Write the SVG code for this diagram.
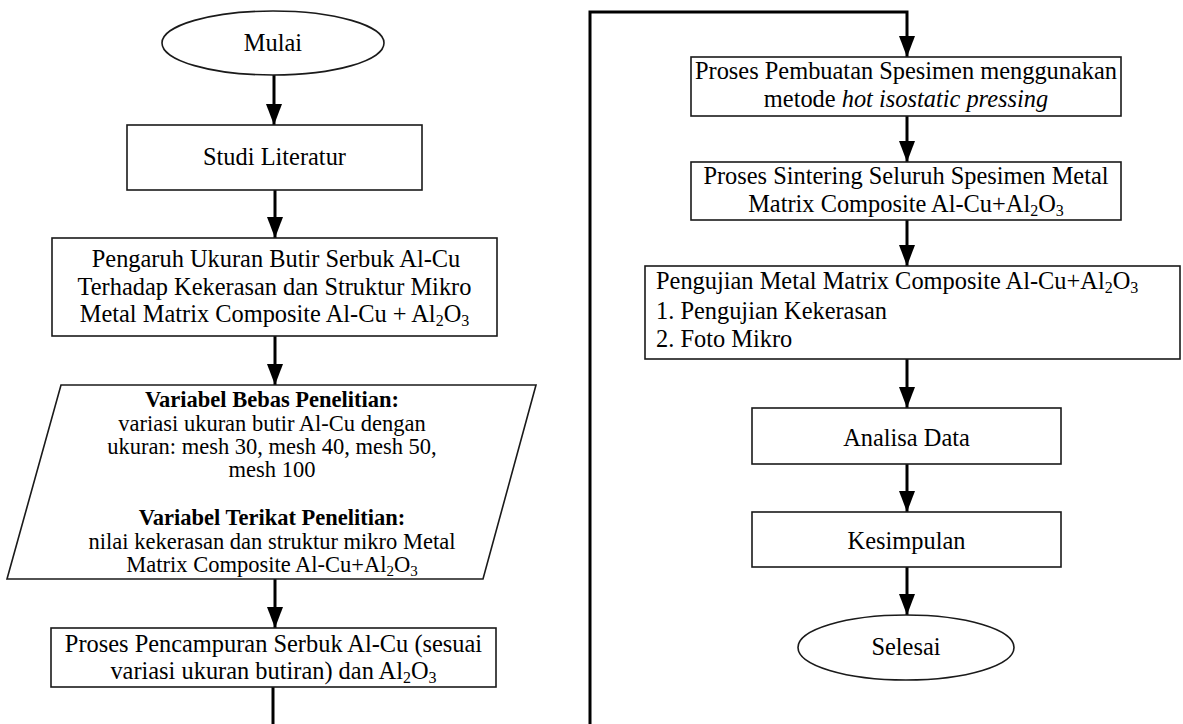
<svg xmlns="http://www.w3.org/2000/svg" width="1183" height="724" viewBox="0 0 1183 724">
<defs>
<marker id="arr" markerUnits="userSpaceOnUse" markerWidth="22" markerHeight="18" refX="21" refY="8" orient="auto">
<path d="M0,0 L21,8 L0,16 z" fill="#000"/>
</marker>
<style>
.shape{fill:#fff;stroke:#1a1a1a;stroke-width:1.6}
.t{font-family:"Liberation Serif","Times New Roman",serif;font-size:24.4px;fill:#000}
.c{text-anchor:middle}
.p{font-size:22.5px}
.b{font-weight:bold}
.conn{fill:none;stroke:#000;stroke-width:3}
</style>
</defs>
<rect width="1183" height="724" fill="#fff"/>
<g id="connectors">
<path class="conn" d="M274,75 V125" marker-end="url(#arr)"/>
<path class="conn" d="M275,190 V238" marker-end="url(#arr)"/>
<path class="conn" d="M275,336 V385" marker-end="url(#arr)"/>
<path class="conn" d="M275,579 V628" marker-end="url(#arr)"/>
<path class="conn" d="M273,687 V730"/>
<path class="conn" d="M590,730 V12 H907 V57" marker-end="url(#arr)"/>
<path class="conn" d="M907,116 V162" marker-end="url(#arr)"/>
<path class="conn" d="M907,220 V266" marker-end="url(#arr)"/>
<path class="conn" d="M907,359 V408" marker-end="url(#arr)"/>
<path class="conn" d="M907,464 V512" marker-end="url(#arr)"/>
<path class="conn" d="M907,567 V615" marker-end="url(#arr)"/>
</g>
<g id="mulai">
<ellipse class="shape" cx="273" cy="43" rx="111" ry="32"/>
<text class="t c" x="273" y="51">Mulai</text>
</g>
<g id="studi">
<rect class="shape" x="127" y="125" width="295" height="65"/>
<text class="t c" x="274.5" y="165">Studi Literatur</text>
</g>
<g id="pengaruh">
<rect class="shape" x="52" y="238" width="445" height="98"/>
<text class="t c" x="276" y="267">Pengaruh Ukuran Butir Serbuk Al-Cu</text>
<text class="t c" x="274.5" y="294.5">Terhadap Kekerasan dan Struktur Mikro</text>
<text class="t c" x="274.5" y="322">Metal Matrix Composite Al-Cu + Al<tspan font-size="16" dy="4">2</tspan><tspan dy="-4">O</tspan><tspan font-size="16" dy="4">3</tspan></text>
</g>
<g id="variabel">
<polygon class="shape" points="61,385 536,385 483,579 7,579"/>
<text class="t p c b" x="272" y="406.7">Variabel Bebas Penelitian:</text>
<text class="t p c" x="272" y="430.5">variasi ukuran butir Al-Cu dengan</text>
<text class="t p c" x="272" y="454">ukuran: mesh 30, mesh 40, mesh 50,</text>
<text class="t p c" x="272" y="477">mesh 100</text>
<text class="t p c b" x="272" y="525">Variabel Terikat Penelitian:</text>
<text class="t p c" x="272" y="548.5">nilai kekerasan dan struktur mikro Metal</text>
<text class="t p c" x="272" y="572">Matrix Composite Al-Cu+Al<tspan font-size="15" dy="4">2</tspan><tspan dy="-4">O</tspan><tspan font-size="15" dy="4">3</tspan></text>
</g>
<g id="pencampuran">
<rect class="shape" x="51" y="628" width="445" height="59"/>
<text class="t c" x="273.5" y="652">Proses Pencampuran Serbuk Al-Cu (sesuai</text>
<text class="t c" x="273.5" y="679">variasi ukuran butiran) dan Al<tspan font-size="16" dy="4">2</tspan><tspan dy="-4">O</tspan><tspan font-size="16" dy="4">3</tspan></text>
</g>
<g id="pembuatan">
<rect class="shape" x="691" y="57" width="430" height="59"/>
<text class="t c" x="906" y="79">Proses Pembuatan Spesimen menggunakan</text>
<text class="t c" x="906" y="107">metode <tspan font-style="italic">hot isostatic pressing</tspan></text>
</g>
<g id="sintering">
<rect class="shape" x="691" y="162" width="430" height="58"/>
<text class="t c" x="906" y="183.5">Proses Sintering Seluruh Spesimen Metal</text>
<text class="t c" x="906" y="212">Matrix Composite Al-Cu+Al<tspan font-size="16" dy="4">2</tspan><tspan dy="-4">O</tspan><tspan font-size="16" dy="4">3</tspan></text>
</g>
<g id="pengujian">
<rect class="shape" x="645" y="266" width="535" height="93"/>
<text class="t" x="656" y="289">Pengujian Metal Matrix Composite Al-Cu+Al<tspan font-size="16" dy="4">2</tspan><tspan dy="-4">O</tspan><tspan font-size="16" dy="4">3</tspan></text>
<text class="t" x="656" y="318.5">1. Pengujian Kekerasan</text>
<text class="t" x="656" y="347">2. Foto Mikro</text>
</g>
<g id="analisa">
<rect class="shape" x="752" y="408" width="309" height="56"/>
<text class="t c" x="906.5" y="446">Analisa Data</text>
</g>
<g id="kesimpulan">
<rect class="shape" x="752" y="512" width="309" height="55"/>
<text class="t c" x="906.5" y="548.5">Kesimpulan</text>
</g>
<g id="selesai">
<ellipse class="shape" cx="906" cy="647.5" rx="108" ry="32.5"/>
<text class="t c" x="906" y="655">Selesai</text>
</g>
</svg>
